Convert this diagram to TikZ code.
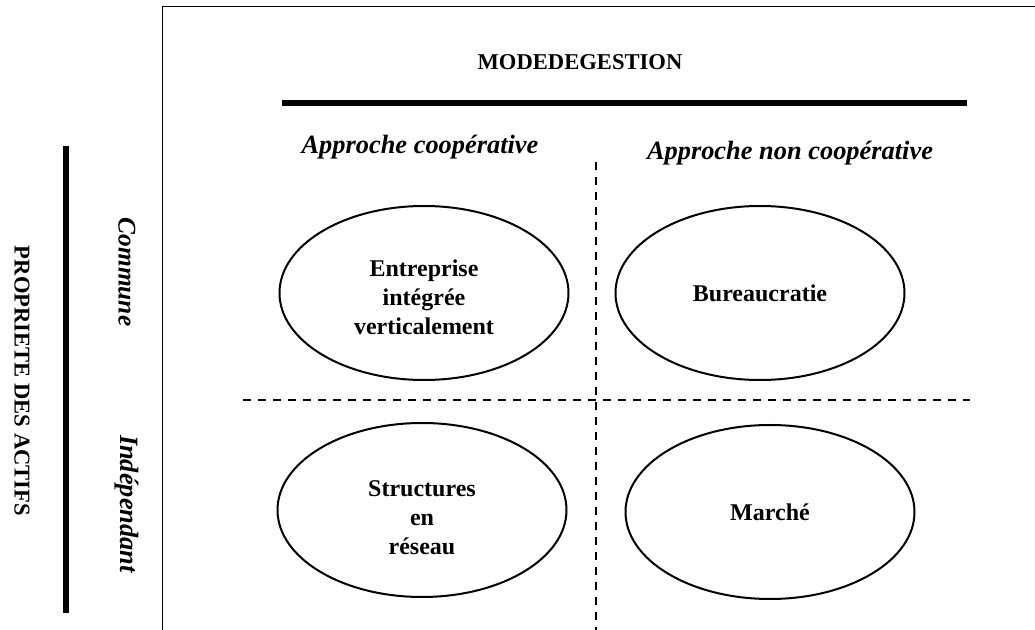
\documentclass[tikz,border=0pt]{standalone}
\usepackage{fontspec}
\setmainfont{Liberation Serif}
\usetikzlibrary{shapes.geometric}

\begin{document}
\begin{tikzpicture}[x=0.5pt,y=-0.5pt]

\useasboundingbox (0,0) rectangle (1035,630);

\tikzset{
    mode box/.style={
        draw, ellipse, line width=1pt, inner sep=0pt,
        minimum width=144.5pt, minimum height=87pt,
        align=center, font=\fontsize{12}{14.5}\selectfont\bfseries
    },
    head/.style={font=\fontsize{11.3}{14}\selectfont\bfseries},
    axis label/.style={font=\fontsize{13.2}{16}\selectfont\bfseries\itshape},
    grid line/.style={line width=1pt, dash pattern=on 4pt off 3.5pt},
    bar/.style={line width=3pt}
}

% Frame
\draw[line width=0.5pt] (162,630) -- (162,7) -- (1035,7);

% Title
\node[head] (Title) at (580,62) {MODEDEGESTION};
\draw[bar] (282,103) -- (967,103);

% Column headers
\node[axis label] (Coop) at (420,147) {Approche coopérative};
\node[axis label] (NonCoop) at (790,153) {Approche non coopérative};

% Row headers
\draw[bar] (66,146) -- (66,613);
\node[head, rotate=-90] (Prop) at (22,381) {PROPRIETE DES ACTIFS};
\node[axis label, rotate=-90, font=\fontsize{12.7}{16}\selectfont\bfseries\itshape] (Comm) at (127,272) {Commune};
\node[axis label, rotate=-90] (Indep) at (127,504) {Indépendant};

% --- QUADRANTS ---
\draw[grid line] (596,162) -- (596,630);
\draw[grid line] (243,400) -- (970,400);

\node[mode box, text height=42pt, text depth=0pt] (EIV) at (424,293) {Entreprise\\intégrée\\verticalement};
\node[mode box] (Bur) at (760,293) {Bureaucratie};
\node[mode box, text height=45pt, text depth=0pt] (Res) at (422,510) {Structures\\en\\réseau};
\node[mode box] (Mar) at (770,512) {Marché};

\end{tikzpicture}
\end{document}
